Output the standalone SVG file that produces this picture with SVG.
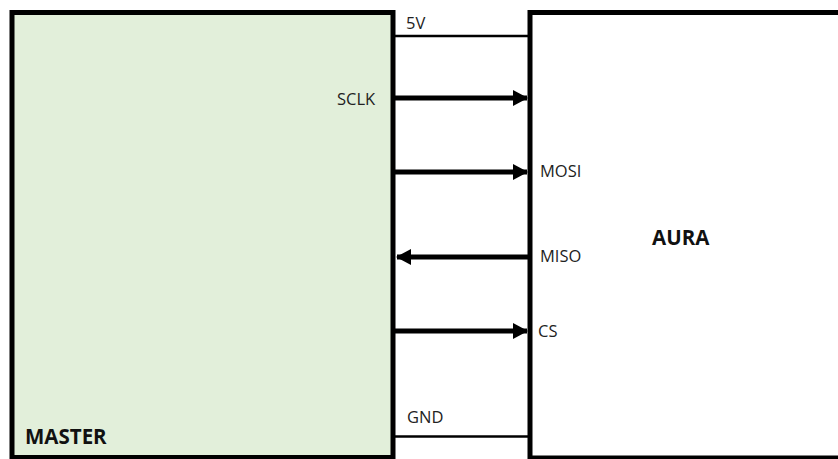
<svg xmlns="http://www.w3.org/2000/svg" width="838" height="459" viewBox="0 0 838 459">
<style>
.box{stroke:#000;stroke-width:5}
.lbl{font-family:"Open Sans","Liberation Sans",sans-serif;font-size:16.5px;fill:#222}
.bold{font-family:"Open Sans","Liberation Sans",sans-serif;font-size:20.5px;font-weight:bold;fill:#111}
.wire{stroke:#000;stroke-width:2.5;fill:none}
.sig{stroke:#000;stroke-width:5;fill:none}
</style>
<defs>
<marker id="ah" markerUnits="userSpaceOnUse" markerWidth="16" markerHeight="18" refX="14" refY="8" orient="auto">
<path d="M0,0 L15,8 L0,16 Z" fill="#000"/>
</marker>
</defs>
<rect width="838" height="459" fill="#fff"/>
<g id="master">
<rect class="box" x="12" y="12.5" width="381" height="445" fill="#e2efda"/>
<text class="bold" x="25" y="444">MASTER</text>
</g>
<g id="aura">
<rect class="box" x="530" y="12.5" width="320" height="445.5" fill="#fff"/>
<text class="bold" x="652" y="245">AURA</text>
</g>
<g id="connectors">
<line class="wire" x1="393" y1="36" x2="530" y2="36"/>
<line class="sig" x1="395" y1="98" x2="527" y2="98" marker-end="url(#ah)"/>
<line class="sig" x1="395" y1="172" x2="527" y2="172" marker-end="url(#ah)"/>
<line class="sig" x1="528" y1="257" x2="397" y2="257" marker-end="url(#ah)"/>
<line class="sig" x1="395" y1="331" x2="527" y2="331" marker-end="url(#ah)"/>
<line class="wire" x1="393" y1="436.5" x2="530" y2="436.5"/>
</g>
<g id="labels">
<text class="lbl" x="406" y="29">5V</text>
<text class="lbl" x="337" y="105">SCLK</text>
<text class="lbl" x="540" y="177">MOSI</text>
<text class="lbl" x="540" y="262">MISO</text>
<text class="lbl" x="538" y="337">CS</text>
<text class="lbl" x="407" y="423">GND</text>
</g>
</svg>
